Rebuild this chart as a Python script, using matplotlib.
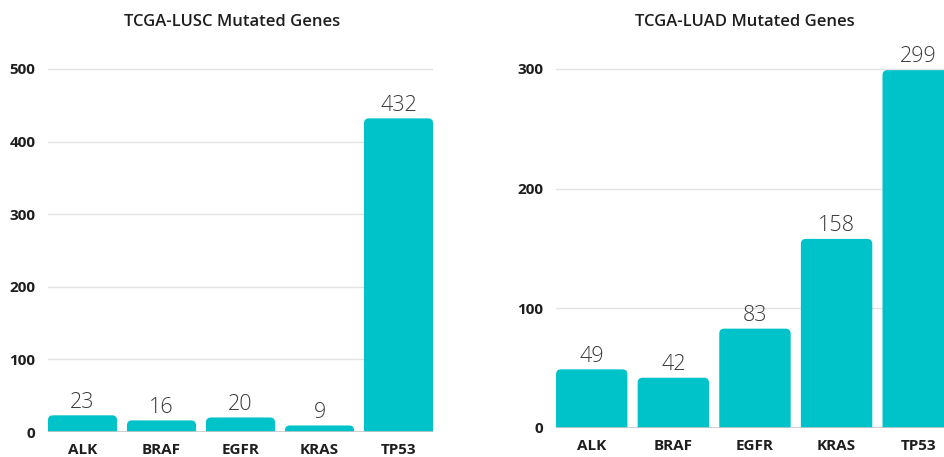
import matplotlib.pyplot as plt
from matplotlib.patches import FancyBboxPatch

# data
genes = ["ALK", "BRAF", "EGFR", "KRAS", "TP53"]
lusc_counts = [23, 16, 20, 9, 432]
luad_counts = [49, 42, 83, 158, 299]
lusc_ticks = [0, 100, 200, 300, 400, 500]
luad_ticks = [0, 100, 200, 300]

teal = "#00C3CA"
plt.rcParams['font.family'] = ['Open Sans', 'DejaVu Sans']

fig = plt.figure(figsize=(9.44, 4.57), dpi=100)
ax1 = fig.add_axes([0.0508, 0.0547, 0.408, 0.842])
ax2 = fig.add_axes([0.589, 0.0635, 0.4215, 0.838])


def draw(ax, counts, ticks, ytop):
    x = range(len(genes))
    ax.set_xlim(-0.4375, 4.4375)
    ax.set_ylim(0, ytop)
    bars = ax.bar(x, counts, width=0.875, color=teal, zorder=3)
    # pixel size of one data unit, to round the bar tops evenly
    bb = ax.get_window_extent()
    px_x = bb.width / 4.875
    px_y = bb.height / ytop
    r = 5 / px_x
    aspect = px_x / px_y
    for b, v in zip(bars, counts):
        b.set_visible(False)
        ry = r * aspect
        p = FancyBboxPatch((b.get_x(), -ry), b.get_width(), v + ry,
                           boxstyle="round,pad=0,rounding_size=%f" % r,
                           mutation_aspect=aspect, fc=teal, ec="none",
                           zorder=3)
        ax.add_patch(p)
        ax.annotate(str(v), (b.get_x() + b.get_width() / 2, v),
                    xytext=(0, 2), textcoords="offset points",
                    ha="center", va="bottom", fontsize=15.5,
                    fontweight="light", color="#3a3a3a")
    ax.set_yticks(ticks)
    ax.set_xticks(list(x))
    ax.set_xticklabels(genes)
    ax.grid(axis="y", color="#e3e3e3", linewidth=1, zorder=0)
    ax.axhline(0, color="#c8c8c8", linewidth=1.2, zorder=4)
    for s in ax.spines.values():
        s.set_visible(False)
    ax.tick_params(length=0, labelsize=11)
    ax.tick_params(axis="x", pad=8)
    ax.tick_params(axis="y", pad=9)
    for lab in ax.get_xticklabels() + ax.get_yticklabels():
        lab.set_fontweight("bold")
        lab.set_color("#1e1e1e")


draw(ax1, lusc_counts, lusc_ticks, 530)
draw(ax2, luad_counts, luad_ticks, 320)
fig.text(232 / 944, 1 - 22 / 457, "TCGA-LUSC Mutated Genes", ha="center",
         va="center", fontsize=12, fontweight="semibold", color="#1e1e1e")
fig.text(745 / 944, 1 - 22 / 457, "TCGA-LUAD Mutated Genes", ha="center",
         va="center", fontsize=12, fontweight="semibold", color="#1e1e1e")

fig.savefig("out.png", dpi=100)
